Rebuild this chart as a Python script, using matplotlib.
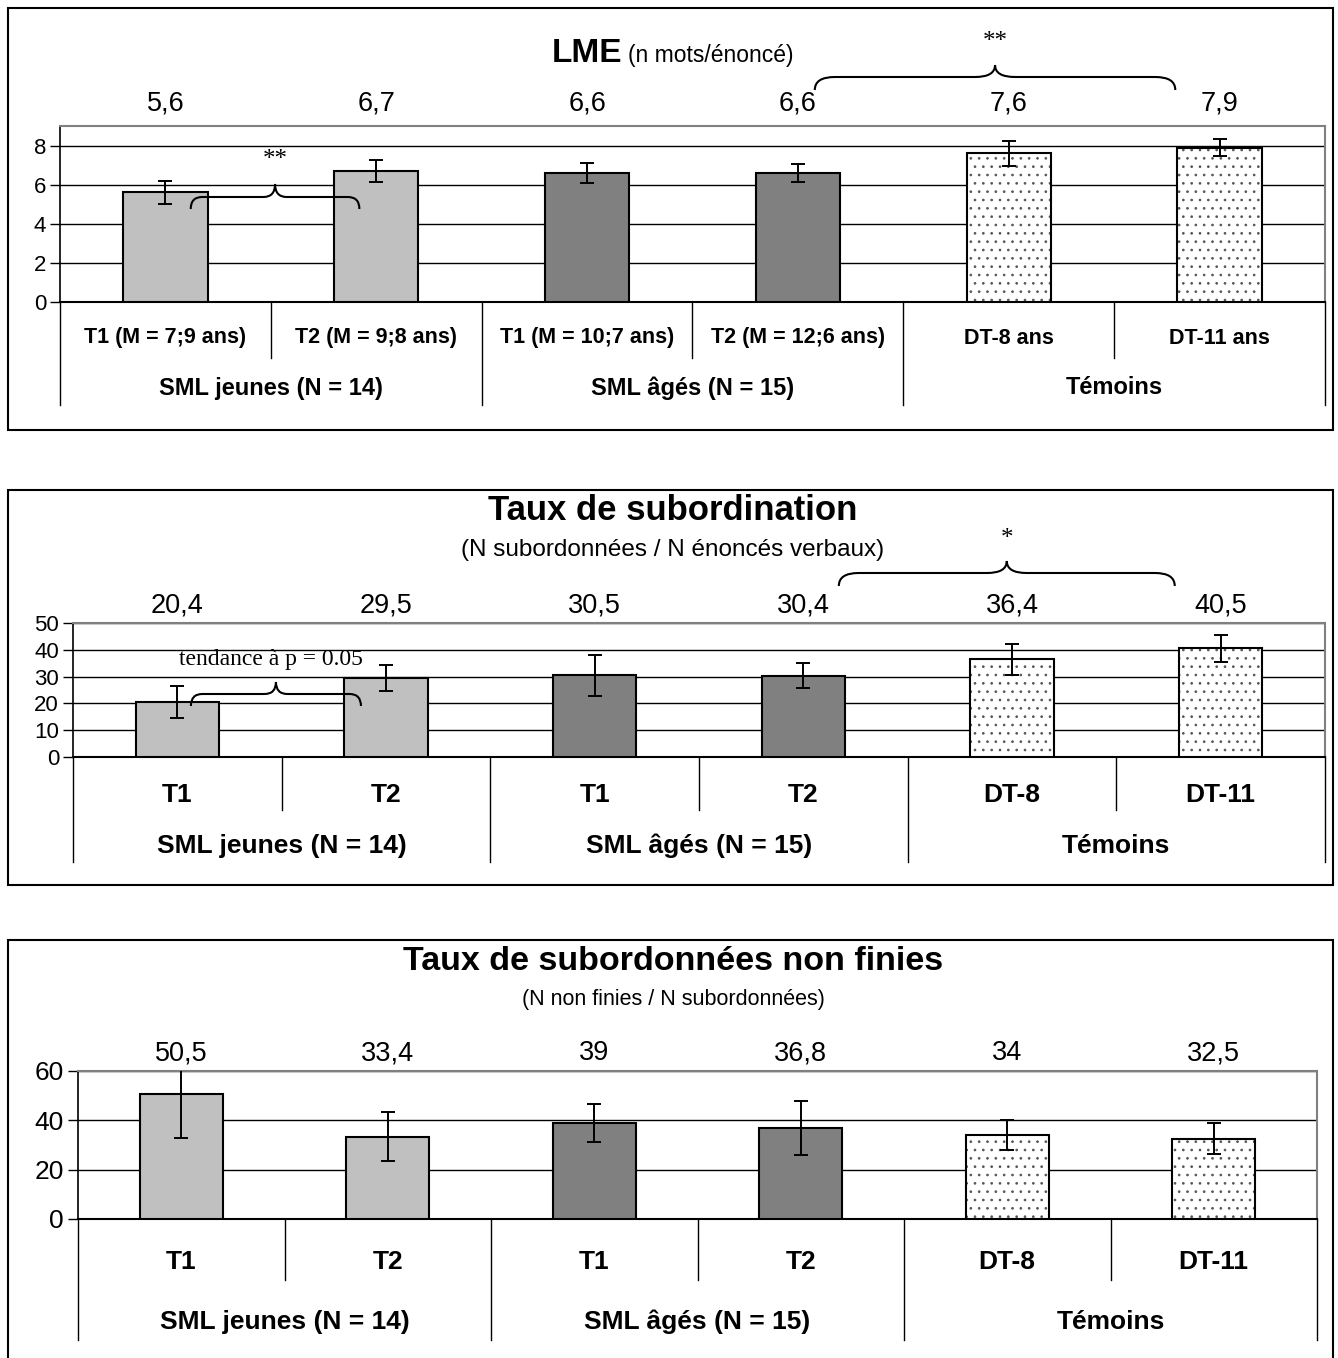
import numpy as np
import matplotlib
matplotlib.use("Agg")
import matplotlib.pyplot as plt
from matplotlib.path import Path
from matplotlib.patches import PathPatch, Rectangle
from matplotlib.transforms import blended_transform_factory

plt.rcParams['font.family'] = ['Liberation Sans', 'DejaVu Sans']
plt.rcParams['hatch.linewidth'] = 0.7

# ---- data ----
groups = ['SML jeunes (N = 14)', 'SML âgés (N = 15)', 'Témoins']
cats_lme = ['T1 (M = 7;9 ans)', 'T2 (M = 9;8 ans)', 'T1 (M = 10;7 ans)',
            'T2 (M = 12;6 ans)', 'DT-8 ans', 'DT-11 ans']
cats_short = ['T1', 'T2', 'T1', 'T2', 'DT-8', 'DT-11']
group_of_bar = [0, 0, 1, 1, 2, 2]

lme = [5.6, 6.7, 6.6, 6.6, 7.6, 7.9]
lme_err = [0.6, 0.55, 0.53, 0.45, 0.63, 0.42]

subord = [20.4, 29.5, 30.5, 30.4, 36.4, 40.5]
subord_err = [6.0, 5.0, 7.6, 4.5, 5.9, 5.2]

nonfin = [50.5, 33.4, 39, 36.8, 34, 32.5]
nonfin_err = [17.8, 10.0, 7.8, 11.0, 6.0, 6.3]

bar_colors = ['#c0c0c0', '#808080', 'white']
bar_hatch = ['', '', '..']

W, H = 1338, 1358
fig = plt.figure(figsize=(W / 100, H / 100), dpi=100)


def fy(py):
    return 1 - py / H


def add_ax(left, top, right, bottom):
    return fig.add_axes([left / W, 1 - bottom / H, (right - left) / W, (bottom - top) / H])


def fmt(v):
    return f"{v:g}".replace('.', ',')


def brace(ax, x0, x1, y_end, y_h, y_tip, rx):
    tr = blended_transform_factory(ax.transData, fig.transFigure)
    xm = (x0 + x1) / 2
    ye, yh, yt = fy(y_end), fy(y_h), fy(y_tip)
    verts = [(x0, ye), (x0, yh), (x0 + rx, yh), (xm - rx, yh), (xm, yh), (xm, yt),
             (xm, yh), (xm + rx, yh), (x1 - rx, yh), (x1, yh), (x1, ye)]
    codes = [Path.MOVETO, Path.CURVE3, Path.CURVE3, Path.LINETO, Path.CURVE3, Path.CURVE3,
             Path.CURVE3, Path.CURVE3, Path.LINETO, Path.CURVE3, Path.CURVE3]
    fig.add_artist(PathPatch(Path(verts, codes), transform=tr, fill=False,
                             lw=1.5, edgecolor='black', clip_on=False))


def seps(ax, n, axis_px, sep1_y, sep2_y):
    tr = blended_transform_factory(ax.transData, fig.transFigure)
    for k in range(n + 1):
        b = k - 0.5
        bottom = sep2_y if k % 2 == 0 else sep1_y
        ax.plot([b, b], [fy(axis_px), fy(bottom)], transform=tr, color='black',
                lw=1.0, clip_on=False)


def panel(ax, values, errs, cats, ymax, yticks, ytick_size, axis_px, value_y,
          row1_y, row2_y, sep1_y, sep2_y, cat_size, grp_size):
    x = np.arange(len(values))
    for i in x:
        g = group_of_bar[i]
        # fill + dots first, then the black outline on top
        ax.bar(x[i], values[i], width=0.4, color=bar_colors[g], hatch=bar_hatch[g],
               edgecolor='#555555', linewidth=0, zorder=3)
        ax.bar(x[i], values[i], width=0.4, fill=False, edgecolor='black',
               linewidth=1.5, zorder=3)
    ax.errorbar(x, values, yerr=errs, fmt='none', ecolor='black', elinewidth=1.4,
                capsize=5, capthick=1.4, zorder=4)
    ax.set_xlim(-0.5, len(values) - 0.5)
    ax.set_ylim(0, ymax)
    ax.set_yticks(yticks)
    ax.set_yticklabels([str(t) for t in yticks])
    ax.yaxis.grid(True, color='black', linewidth=1.0, zorder=0)
    ax.set_axisbelow(True)
    ax.set_xticks([])
    ax.tick_params(axis='y', direction='out', length=7, width=1, labelsize=ytick_size, pad=3)
    for s in ['top', 'right']:
        ax.spines[s].set_color('#808080')
        ax.spines[s].set_linewidth(1.5)
    ax.spines['left'].set_linewidth(1.2)
    ax.spines['bottom'].set_linewidth(1.5)

    tr = blended_transform_factory(ax.transData, fig.transFigure)
    for i in x:
        ax.text(x[i], fy(value_y), fmt(values[i]), transform=tr, ha='center',
                va='center', fontsize=19.5)
        ax.text(x[i], fy(row1_y), cats[i], transform=tr, ha='center', va='center',
                fontsize=cat_size, fontweight='bold')
    for j, gname in enumerate(groups):
        ax.text(2 * j + 0.5, fy(row2_y), gname, transform=tr, ha='center', va='center',
                fontsize=grp_size, fontweight='bold')
    seps(ax, len(values), axis_px, sep1_y, sep2_y)
    return tr


serif = ['Liberation Serif', 'DejaVu Serif']

# outer frames
for top, bottom in [(8, 430), (490, 885), (940, 1362)]:
    fig.add_artist(Rectangle((8 / W, fy(bottom)), (1333 - 8) / W, (bottom - top) / H,
                             transform=fig.transFigure, fill=False, lw=1.5,
                             edgecolor='black'))

# ---- panel 1 : LME ----
ax1 = add_ax(60, 126, 1325, 302)
panel(ax1, lme, lme_err, cats_lme, 9, [0, 2, 4, 6, 8], 16, 302, 103,
      338, 388, 358, 405, 15.5, 17)
fig.text(622 / W, fy(62), 'LME', ha='right', va='baseline', fontsize=24,
         fontweight='bold')
fig.text(628 / W, fy(62), '(n mots/énoncé)', ha='left', va='baseline', fontsize=16.5)
brace(ax1, 0.12, 0.92, 209, 197, 184, 0.055)
brace(ax1, 3.08, 4.79, 90, 77, 65, 0.095)
tr1 = blended_transform_factory(ax1.transData, fig.transFigure)
ax1.text(0.52, fy(160), '**', transform=tr1, ha='center', va='center', fontsize=18,
         family=serif)
ax1.text(3.935, fy(42), '**', transform=tr1, ha='center', va='center', fontsize=18,
         family=serif)

# ---- panel 2 : Taux de subordination ----
ax2 = add_ax(73, 623, 1325, 757)
panel(ax2, subord, subord_err, cats_short, 50, [0, 10, 20, 30, 40, 50], 16, 757, 605,
      795, 846, 810, 862, 19, 19)
fig.text(673 / W, fy(510), 'Taux de subordination', ha='center', va='center',
         fontsize=25, fontweight='bold')
fig.text(673 / W, fy(550), '(N subordonnées / N énoncés verbaux)', ha='center',
         va='center', fontsize=17.5)
brace(ax2, 0.065, 0.88, 706, 694, 682, 0.055)
brace(ax2, 3.17, 4.78, 586, 573, 561, 0.095)
tr2 = blended_transform_factory(ax2.transData, fig.transFigure)
ax2.text(0.45, fy(659), 'tendance à p = 0.05', transform=tr2, ha='center', va='center',
         fontsize=17, family=serif)
ax2.text(3.975, fy(539), '*', transform=tr2, ha='center', va='center', fontsize=18,
         family=serif)

# ---- panel 3 : Taux de subordonnées non finies ----
ax3 = add_ax(78, 1071, 1317, 1219)
panel(ax3, nonfin, nonfin_err, cats_short, 60, [0, 20, 40, 60], 19, 1219, 1053,
      1262, 1322, 1280, 1340, 19, 19)
fig.text(673 / W, fy(962), 'Taux de subordonnées non finies', ha='center', va='center',
         fontsize=24.5, fontweight='bold')
fig.text(673 / W, fy(1000), '(N non finies / N subordonnées)', ha='center',
         va='center', fontsize=15.5)

fig.savefig('out.png', dpi=100)
